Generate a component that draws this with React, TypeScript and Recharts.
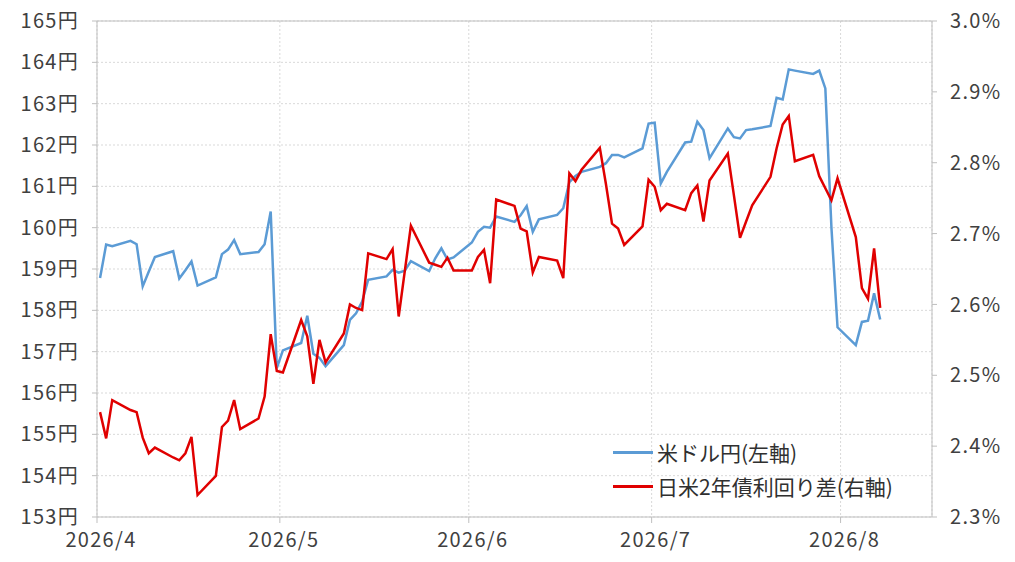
import {
  LineChart,
  Line,
  XAxis,
  YAxis,
  CartesianGrid,
  Legend,
  ReferenceLine,
} from 'recharts'

// 日付（2026年）
const dates = [
  '4/1', '4/2', '4/3', '4/6', '4/7', '4/8', '4/9', '4/10', '4/13', '4/14', '4/15',
  '4/16', '4/17', '4/20', '4/21', '4/22', '4/23', '4/24', '4/27', '4/28', '4/29', '4/30',
  '5/1', '5/4', '5/5', '5/6', '5/7', '5/8', '5/11', '5/12', '5/13', '5/14', '5/15',
  '5/18', '5/19', '5/20', '5/21', '5/22', '5/25', '5/26', '5/27', '5/28', '5/29',
  '6/1', '6/2', '6/3', '6/4', '6/5', '6/8', '6/9', '6/10', '6/11', '6/12', '6/15',
  '6/16', '6/17', '6/18', '6/19', '6/22', '6/23', '6/24', '6/25', '6/26', '6/29', '6/30',
  '7/1', '7/2', '7/3', '7/6', '7/7', '7/8', '7/9', '7/10', '7/13', '7/14', '7/15',
  '7/16', '7/17', '7/20', '7/21', '7/22', '7/23', '7/24', '7/27', '7/28', '7/29', '7/30', '7/31',
  '8/3', '8/4', '8/5', '8/6', '8/7',
]

// 米ドル円（左軸）
const usdJpy = [
  158.78, 159.59, 159.55, 159.68, 159.6, 158.58, 158.94, 159.29, 159.43, 158.77, 158.97,
  159.18, 158.6, 158.8, 159.36, 159.47, 159.7, 159.36, 159.41, 159.6, 160.39, 156.6,
  157.03, 157.21, 157.87, 156.95, 156.85, 156.65, 157.16, 157.77, 157.93, 158.21, 158.74,
  158.82, 158.98, 158.91, 158.96, 159.19, 158.95, 159.26, 159.5, 159.23, 159.28,
  159.64, 159.9, 160.02, 160.0, 160.27, 160.14, 160.3, 160.52, 159.9, 160.2, 160.31,
  160.47, 161.1, 161.25, 161.35, 161.47, 161.56, 161.76, 161.76, 161.7, 161.92, 162.52,
  162.54, 161.07, 161.35, 162.06, 162.08, 162.56, 162.36, 161.68, 162.4, 162.19, 162.16,
  162.36, 162.38, 162.46, 163.14, 163.1, 163.83, 163.8, 163.72, 163.8, 163.37, 160.0, 157.59,
  157.16, 157.72, 157.75, 158.41, 157.78,
]

// 日米2年債利回り差（右軸, %）
const spread = [
  2.448, 2.411, 2.465, 2.451, 2.448, 2.412, 2.39, 2.398, 2.384, 2.38, 2.39,
  2.413, 2.331, 2.358, 2.427, 2.436, 2.465, 2.424, 2.439, 2.47, 2.558, 2.506,
  2.504, 2.578, 2.555, 2.488, 2.55, 2.518, 2.559, 2.6, 2.595, 2.592, 2.672,
  2.664, 2.678, 2.583, 2.647, 2.711, 2.659, 2.656, 2.653, 2.666, 2.648,
  2.648, 2.667, 2.677, 2.63, 2.748, 2.739, 2.707, 2.703, 2.645, 2.667, 2.662,
  2.637, 2.785, 2.774, 2.79, 2.821, 2.77, 2.714, 2.707, 2.684, 2.71, 2.776,
  2.766, 2.733, 2.742, 2.733, 2.757, 2.768, 2.717, 2.775, 2.813, 2.754, 2.694,
  2.717, 2.74, 2.78, 2.82, 2.854, 2.866, 2.802, 2.811, 2.781, 2.764, 2.747, 2.778,
  2.695, 2.623, 2.608, 2.679, 2.595,
]

// 軸目盛り
const monthLabels = ['2026/4', '2026/5', '2026/6', '2026/7', '2026/8']
const monthStarts = ['4/1', '5/1', '6/1', '7/1', '8/1']
const yenTicks = [153, 154, 155, 156, 157, 158, 159, 160, 161, 162, 163, 164, 165]
const pctTicks = [2.3, 2.4, 2.5, 2.6, 2.7, 2.8, 2.9, 3.0]

const BASE = Date.UTC(2026, 3, 1)
const dayOf = (md: string) => {
  const [m, d] = md.split('/').map(Number)
  return (Date.UTC(2026, m - 1, d) - BASE) / 86400000
}
const monthTicks = monthStarts.map(dayOf)
const X_END = dayOf('8/16')

// Excel の日付軸と同じく、点は日の中央に置く
const rows = dates.map((d, i) => ({
  x: dayOf(d) + 0.5,
  usdJpy: usdJpy[i],
  spread: spread[i],
}))

const FONT = '"Noto Sans CJK JP", "Noto Sans", sans-serif'
const TEXT = '#404040'
const AXIS = '#bfbfbf'
const BLUE = '#5b9bd5'
const RED = '#e00000'
const tickFont = { fill: TEXT, fontSize: 20, fontFamily: FONT, letterSpacing: 1.3 }

const MonthTick = ({ x, y, payload }: any) => {
  const idx = monthTicks.indexOf(payload.value)
  return (
    <text
      x={x + 4}
      y={y}
      dy={19}
      textAnchor="middle"
      fill={TEXT}
      fontSize={20}
      letterSpacing={1.3}
      fontFamily={FONT}
    >
      {monthLabels[idx]}
    </text>
  )
}

const LegendBox = () => (
  <div style={{ fontFamily: FONT, fontSize: 21, color: '#303030' }}>
    {[
      { name: '米ドル円(左軸)', color: BLUE },
      { name: '日米2年債利回り差(右軸)', color: RED },
    ].map((item) => (
      <div
        key={item.name}
        style={{ display: 'flex', alignItems: 'center', height: 34 }}
      >
        <span
          style={{
            display: 'inline-block',
            width: 40,
            height: 3,
            background: item.color,
            marginRight: 4,
          }}
        />
        <span>{item.name}</span>
      </div>
    ))}
  </div>
)

export default function App() {
  return (
    <div style={{ position: 'absolute', left: 0, top: 0, background: '#fff' }}>
      <LineChart
        width={1015}
        height={562}
        data={rows}
        margin={{ top: 21, right: 20, bottom: 0, left: 20 }}
      >
        <CartesianGrid
          yAxisId="left"
          stroke="#d9d9d9"
          strokeDasharray="2 2"
        />
        <XAxis
          dataKey="x"
          type="number"
          domain={[0, X_END]}
          ticks={monthTicks}
          height={45}
          stroke={AXIS}
          tickSize={6}
          tickMargin={5}
          tick={<MonthTick />}
        />
        <YAxis
          yAxisId="left"
          domain={[153, 165]}
          ticks={yenTicks}
          width={77}
          stroke={AXIS}
          tickSize={5}
          tickMargin={13}
          tickFormatter={(v: number) => `${v}円`}
          tick={tickFont}
        />
        <YAxis
          yAxisId="right"
          orientation="right"
          domain={[2.3, 3.0]}
          ticks={pctTicks}
          width={63}
          stroke={AXIS}
          tickSize={5}
          tickMargin={13}
          tickFormatter={(v: number) => `${v.toFixed(1)}%`}
          tick={tickFont}
        />
        <ReferenceLine yAxisId="left" y={165} stroke={AXIS} />
        <Line
          yAxisId="left"
          dataKey="usdJpy"
          name="米ドル円(左軸)"
          stroke={BLUE}
          strokeWidth={2.5}
          dot={false}
          type="linear"
          isAnimationActive={false}
        />
        <Line
          yAxisId="right"
          dataKey="spread"
          name="日米2年債利回り差(右軸)"
          stroke={RED}
          strokeWidth={2.5}
          dot={false}
          type="linear"
          isAnimationActive={false}
        />
        <Legend
          layout="vertical"
          align="center"
          verticalAlign="middle"
          content={<LegendBox />}
          wrapperStyle={{ left: 613, top: 435, width: 320 }}
        />
      </LineChart>
    </div>
  )
}
